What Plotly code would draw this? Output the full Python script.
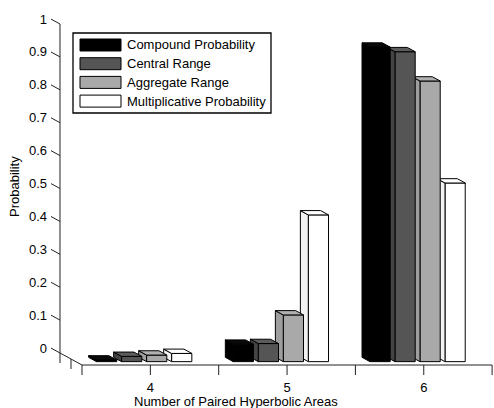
import plotly.graph_objects as go

# ---- data -------------------------------------------------------------
groups = [4, 5, 6]
series_names = ["Compound Probability", "Central Range",
                "Aggregate Range", "Multiplicative Probability"]
compound = [0.005, 0.053, 0.956]
central = [0.016, 0.055, 0.942]
aggregate = [0.020, 0.142, 0.853]
multiplicative = [0.025, 0.446, 0.543]
y_ticks = [0, 0.1, 0.2, 0.3, 0.4, 0.5, 0.6, 0.7, 0.8, 0.9, 1]
y_tick_labels = ["0", "0.1", "0.2", "0.3", "0.4", "0.5",
                 "0.6", "0.7", "0.8", "0.9", "1"]
x_title = "Number of Paired Hyperbolic Areas"
y_title = "Probability"

series = [compound, central, aggregate, multiplicative]

# ---- styling ----------------------------------------------------------
FONT = "Liberation Sans, Arial, sans-serif"
front_colors = ["#000000", "#555555", "#a9a9a9", "#ffffff"]
side_colors = ["#000000", "#444444", "#9e9e9e", "#f2f2f2"]
top_colors = ["#0a0a0a", "#5c5c5c", "#b0b0b0", "#ffffff"]
EDGE = "#000000"
AXIS = "#222222"

# oblique projection of (x, depth, height) onto the flat canvas
KX = 0.161    # horizontal shift per unit of depth (leftwards)
KZ = 0.0365   # vertical shift per unit of depth (upwards)
DL = 1.42     # depth of the plane that carries the height labels


def proj(x, d, z):
    return x - d * KX, z + (d - DL) * KZ


BAR_W = 0.148          # bar width along x
PITCH = 0.183          # spacing of bars inside a group
D_FRONT, D_BACK = 0.28, 0.64   # bar extent in depth
TICK_DOWN = 0.0304     # length of the downward floor ticks
Z_TICK_D = 0.42        # length of the slanted height ticks (in depth)

X_RANGE = [3.2732, 6.5139]
Y_RANGE = [-0.0913, 1.0333]
X_EDGES = [3.5, 6.5]

fig = go.Figure()


def poly(points, fill, z, width=1, color=EDGE):
    xs, ys = zip(*[proj(*p) for p in points])
    fig.add_trace(go.Scatter(
        x=list(xs) + [xs[0]], y=list(ys) + [ys[0]], mode="lines",
        fill="toself", fillcolor=fill, line=dict(color=color, width=width),
        hoverinfo="skip", showlegend=False, zorder=z))


def seg(points, z=0):
    xs, ys = zip(*[proj(*p) for p in points])
    fig.add_trace(go.Scatter(
        x=list(xs), y=list(ys), mode="lines",
        line=dict(color=AXIS, width=1), hoverinfo="skip",
        showlegend=False, zorder=z))


# ---- axes frame ---------------------------------------------------------
x0, x1 = X_EDGES
seg([(x0, 0, 0), (x1, 0, 0)])                        # front floor edge
seg([(x0, 0, 0), (x0, 1 + Z_TICK_D, 0)])             # depth edge + zero tick
seg([(x0, 1, 0), (x0, 1, 1)])                        # vertical axis
for t in y_ticks[1:]:
    seg([(x0, 1, t), (x0, 1 + Z_TICK_D, t)])         # slanted height ticks
n_xt = int(round((x1 - x0) / 0.5)) + 1
for k in range(n_xt):
    xt = x0 + 0.5 * k
    seg([(xt, 0, 0), (xt, 0, -TICK_DOWN)])           # x ticks
for dt in (0.5, 1.0):
    seg([(x0, dt, 0), (x0, dt, -TICK_DOWN)])         # depth ticks

# ---- bars (painted right to left so nearer faces cover farther ones) ----
bars = []
for gi, g in enumerate(groups):
    for si, vals in enumerate(series):
        bars.append((g + (si - 1.5) * PITCH, si, vals[gi]))
bars.sort(key=lambda b: -b[0])

for rank, (xc, si, v) in enumerate(bars):
    z = rank + 1
    xl, xr = xc - BAR_W / 2, xc + BAR_W / 2
    # left side face
    poly([(xl, D_FRONT, 0), (xl, D_BACK, 0), (xl, D_BACK, v), (xl, D_FRONT, v)],
         side_colors[si], z)
    # top face
    poly([(xl, D_FRONT, v), (xr, D_FRONT, v), (xr, D_BACK, v), (xl, D_BACK, v)],
         top_colors[si], z)
    # front face: a bar whose height is the value itself
    fx, fbase = proj(xc, D_FRONT, 0)
    fig.add_trace(go.Bar(
        x=[fx], y=[v], base=[fbase], width=[BAR_W],
        marker=dict(color=front_colors[si], line=dict(color=EDGE, width=1)),
        name=series_names[si], showlegend=False,
        hovertemplate=series_names[si] + ": %{y}<extra></extra>",
        zorder=z))

# ---- layout ---------------------------------------------------------------
W, H = 494, 408
ML, MR, MT, MB = 51, 0, 8, 30
PW, PH = W - ML - MR, H - MT - MB


def px(xp):
    return (xp - ML) / PW


def py(yp):
    return (H - MB - yp) / PH


shapes = []
annotations = []

# legend box with wide swatches
shapes.append(dict(type="rect", xref="paper", yref="paper",
                   x0=px(73), x1=px(271), y0=py(113), y1=py(33),
                   line=dict(color="#000000", width=1.3), fillcolor="#ffffff",
                   layer="above"))
row_y = [45, 63.7, 82.4, 101.1]
for si, name in enumerate(series_names):
    cy = row_y[si]
    shapes.append(dict(type="rect", xref="paper", yref="paper",
                       x0=px(80), x1=px(121), y0=py(cy + 6), y1=py(cy - 6),
                       line=dict(color="#000000", width=1),
                       fillcolor=front_colors[si], layer="above"))
    annotations.append(dict(text=name, xref="paper", yref="paper",
                            x=px(125), y=py(cy), xanchor="left",
                            yanchor="middle", showarrow=False,
                            font=dict(family=FONT, size=13, color="#000000")))

annotations.append(dict(text=x_title, xref="paper", yref="paper",
                        x=px(236), y=py(401), xanchor="center",
                        yanchor="middle", showarrow=False,
                        font=dict(family=FONT, size=13, color="#000000")))
annotations.append(dict(text=y_title, xref="paper", yref="paper",
                        x=px(14), y=py(187), xanchor="center",
                        yanchor="middle", showarrow=False, textangle=-90,
                        font=dict(family=FONT, size=13, color="#000000")))

fig.update_layout(
    template="none",
    width=W, height=H,
    margin=dict(l=ML, r=MR, t=MT, b=MB, pad=0),
    paper_bgcolor="#ffffff", plot_bgcolor="#ffffff",
    font=dict(family=FONT, size=13, color="#000000"),
    barmode="overlay",
    showlegend=False,
    shapes=shapes,
    annotations=annotations,
    xaxis=dict(range=X_RANGE, showgrid=False, zeroline=False, showline=False,
               tickmode="array", tickvals=groups,
               ticktext=[str(g) for g in groups], ticks="",
               ticklabelstandoff=0, automargin=False, fixedrange=True),
    yaxis=dict(range=Y_RANGE, showgrid=False, zeroline=False, showline=False,
               tickmode="array", tickvals=y_ticks, ticktext=y_tick_labels,
               ticks="", ticklabelstandoff=3, automargin=False,
               fixedrange=True),
)

fig.write_html("out.html")
